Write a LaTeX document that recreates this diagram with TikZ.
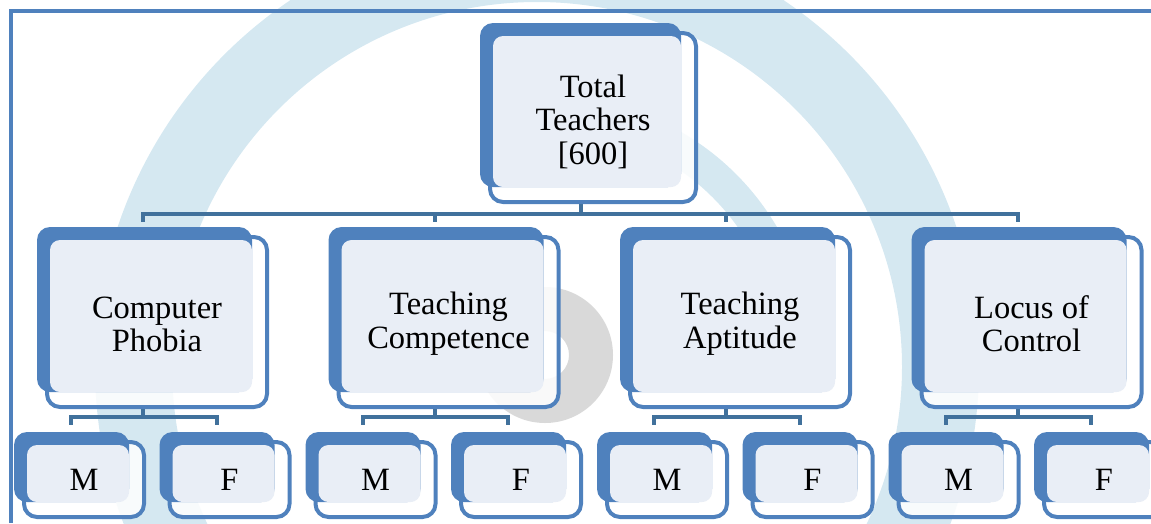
\documentclass[tikz,border=0pt]{standalone}
\usepackage{fontspec}
\setmainfont{Liberation Serif}
\usetikzlibrary{backgrounds}

\definecolor{boxblue}{RGB}{79,129,189}
\definecolor{linkblue}{RGB}{65,113,156}
\definecolor{boxfill}{RGB}{233,238,246}
\definecolor{markblue}{RGB}{213,232,241}
\definecolor{markgrey}{RGB}{217,217,217}

\tikzset{
  card/.style={draw=boxblue, line width=4pt, rounded corners=13pt, inner sep=0pt,
    outer sep=0pt, align=center, font=\fontsize{32.5}{33.5}\selectfont},
  topcard/.style={card, minimum width=206pt, minimum height=169pt},
  midcard/.style={card, minimum width=220pt, minimum height=170pt},
  lowcard/.style={card, minimum width=120pt, minimum height=75pt},
  link/.style={draw=linkblue, line width=4pt},
}

\begin{document}
\begin{tikzpicture}[x=1pt, y=-1pt]
  \useasboundingbox (0,0) rectangle (1151,523);
  % faint logo behind the chart
  \begin{pgfonlayer}{background}
    \begin{scope}
      \clip (0,0) rectangle (1151,523);
      \fill[markblue, even odd rule] (537,367) circle (442pt) (537,367) circle (365pt);
      \fill[markblue] (550,360) ++(90:263pt) arc (90:0:263pt) -- ++(-33pt,0pt) arc (0:90:230pt) -- cycle;
      \fill[markgrey, even odd rule] (545,355) circle (68pt) (545,355) circle (24pt);
    \end{scope}
  \end{pgfonlayer}

  \draw[boxblue, line width=4pt] (11,523) -- (11,11) -- (1151,11);

  \node[topcard] (total) at (593,117.5) {\rule{0pt}{31pt}Total\\Teachers\\{[600]}};

  \node[midcard] (phobia) at (157,322) {\rule{0pt}{26pt}Computer\\Phobia};
  \node[midcard] (competence) at (448.5,322) {\rule{0pt}{26pt}Teaching\\Competence};
  \node[midcard] (aptitude) at (740,322) {\rule{0pt}{26pt}Teaching\\Aptitude};
  \node[midcard] (locus) at (1031.5,322) {\rule{0pt}{26pt}Locus of\\Control};

  \node[lowcard] (phobia-m) at (84,479.5) {M};
  \node[lowcard] (phobia-f) at (229.5,479.5) {F};
  \node[lowcard] (competence-m) at (375.5,479.5) {M};
  \node[lowcard] (competence-f) at (521,479.5) {F};
  \node[lowcard] (aptitude-m) at (667,479.5) {M};
  \node[lowcard] (aptitude-f) at (812.5,479.5) {F};
  \node[lowcard] (locus-m) at (958.5,479.5) {M};
  \node[lowcard] (locus-f) at (1104,479.5) {F};

  \begin{pgfonlayer}{background}
    % connectors
    \foreach \n in {phobia,competence,aptitude,locus} {
      \draw[link] ([xshift=-12pt]total.south) -- ++(0,12) -| ([xshift=-14pt,yshift=15pt]\n.north);
      \draw[link] ([xshift=-14pt]\n.south) -- ++(0,10) -| ([xshift=-13pt,yshift=17pt]\n-m.north);
      \draw[link] ([xshift=-14pt]\n.south) -- ++(0,10) -| ([xshift=-13pt,yshift=17pt]\n-f.north);
    }
    % back plates of the cards
    \foreach \n in {total,phobia,competence,aptitude,locus,phobia-m,phobia-f,competence-m,competence-f,aptitude-m,aptitude-f,locus-m,locus-f} {
      \fill[white, fill opacity=.85, rounded corners=13pt] (\n.north west) rectangle (\n.south east);
      \fill[boxblue, rounded corners=13pt] ([shift={(-10pt,10pt)}]\n.north west) rectangle ([shift={(-15pt,15pt)}]\n.south east);
      \fill[boxfill, rounded corners=10pt] ([shift={(3pt,-3pt)}]\n.north west) rectangle ([shift={(-15pt,15pt)}]\n.south east);
    }
  \end{pgfonlayer}
\end{tikzpicture}
\end{document}
